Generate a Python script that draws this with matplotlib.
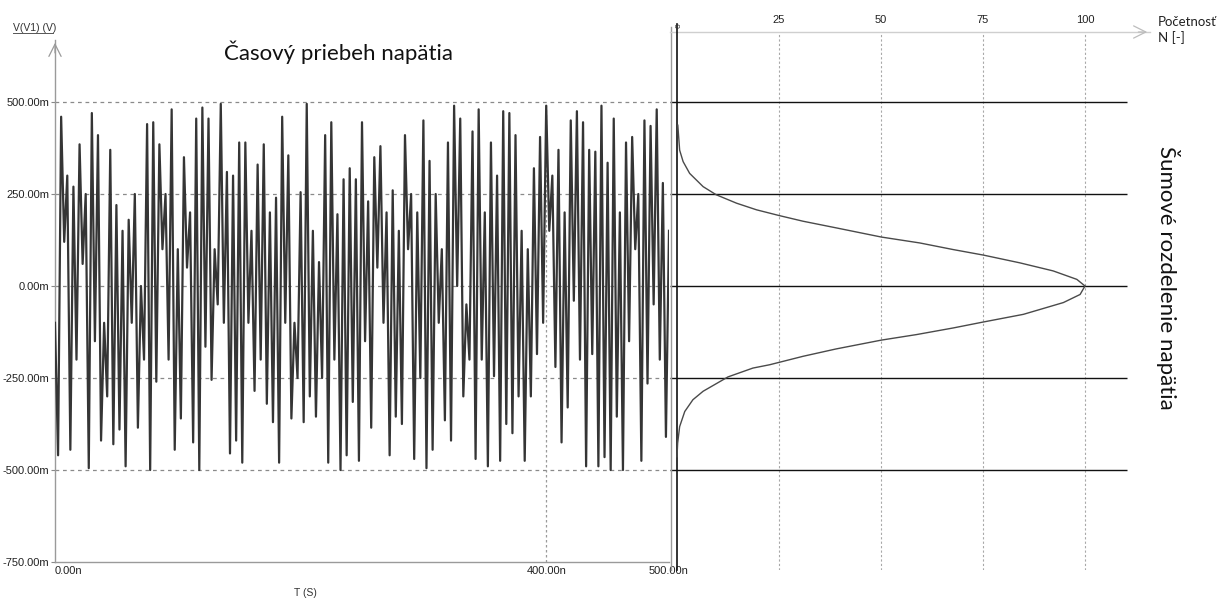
import numpy as np
import matplotlib
matplotlib.use("Agg")
import matplotlib.pyplot as plt
from matplotlib.lines import Line2D

# ---------------- data ----------------
# noise voltage (mV), successive turning points, evenly spread over 0..500 ns
noise_mv_part1 = [-100, -460, 460, 120, 300, -445, 270, -200, 385, 60,
                  250, -495, 470, -150, 410, -420, -100, -300, 370, -430,
                  220, -390, 150, -490, 180, -100, 250, -385, 0, -200,
                  440, -500, 445, -260, 385, 100, 250, -200, 480, -445,
                  100, -360, 350, 50, 200, -425, 455, -500, 485, -165,
                  455, -255, 100, -50, 495, -100, 310, -455, 300, -420,
                  390, -480, 390, -100, 150, -285, 330, -200, 385, -320,
                  200, -370, 240, -480, 460, -100, 355, -360, -100, -250,
                  255, -370, 495, -300, 150, -355, 65, -250, 410, -480,
                  445, -200, 195, -500, 290, -460, 320, -315, 290, -475,
                  445, -150, 230, -385, 350, 50, 380, -100, 200, -460]
noise_mv_part2 = [260, -355, 150, -375, 410, 100, 250, -470, 200, -250,
                  450, -495, 340, -445, 250, -100, 100, -365, 390, -420,
                  490, 0, 455, -300, -50, -200, 420, -470, 480, -200,
                  200, -490, 390, -245, 300, -475, 475, -375, 470, -400,
                  410, -300, 150, -475, 100, -300, 320, -185, 405, -100,
                  490, 150, 300, -220, 370, -425, 200, -330, 450, -40,
                  475, -200, 445, -490, 370, -185, 365, -490, 490, -465,
                  335, -500, 455, -355, 200, -500, 390, -150, 405, 100,
                  250, -475, 450, -265, 435, -50, 480, -200, 280, -410,
                  150]
t_end_ns = 500.0

# distribution curve: voltage (mV) and count N
dist_v_mv = [437, 369, 338, 306, 270, 248, 225, 207, 191, 176, 158, 133, 117, 99, 84, 63,
             41, 18, 0, -23, -45, -77, -98, -114, -132, -147, -171, -191, -214, -223,
             -247, -286, -309, -341, -382, -427, -464]
dist_n = [0.2, 0.65, 1.5, 3.1, 6.4, 9.6, 14.6, 19.5, 25.2, 30.9, 39.0, 50.1, 59.5, 67.7, 75.1, 84.0,
          92.2, 98.0, 100.0, 98.8, 94.7, 84.9, 75.0, 67.7, 58.7, 50.1, 39.0, 30.9, 22.7, 18.6,
          12.5, 6.4, 3.9, 1.9, 0.65, 0.16, 0.0]

v_ticks_mv = [500, 250, 0, -250, -500, -750]
v_tick_labels = ["500.00m", "250.00m", "0.00m", "-250.00m", "-500.00m", "-750.00m"]
t_ticks_ns = [0, 400, 500]
t_tick_labels = ["0.00n", "400.00n", "500.00n"]
n_ticks = [25, 50, 75, 100]

title_left = "Časový priebeh napätia"
title_right = "Šumové rozdelenie napätia"
ylabel = "V(V1) (V)"
xlabel = "T (S)"
nlabel = "Početnosť\nN [-]"

# ---------------- figure ----------------
W, H = 1220, 601
fig = plt.figure(figsize=(W / 100, H / 100), dpi=100)
fig.patch.set_facecolor("white")


def rect(x0, y0, x1, y1):
    return [x0 / W, 1 - y1 / H, (x1 - x0) / W, (y1 - y0) / H]


tick_font = "Liberation Sans"
title_font = "Lato"

# ---- left: time signal ----
ax1 = fig.add_axes(rect(55, 40, 669, 562))
noise = np.array(noise_mv_part1 + noise_mv_part2, dtype=float)
t = np.linspace(0, t_end_ns, len(noise))
ax1.plot(t, noise, color="#353535", lw=1.6, zorder=3)
ax1.set_xlim(0, t_end_ns)
ax1.set_ylim(-750, 668.5)

for v in v_ticks_mv[:-1]:
    ax1.axhline(v, color="#8a8a8a", lw=0.9, ls=(0, (3, 3)), zorder=1)
ax1.axvline(400, ymax=(500 + 750) / (668.5 + 750), color="#9a9a9a", lw=0.9,
            ls=(0, (2, 2)), zorder=1)

ax1.set_yticks(v_ticks_mv)
ax1.set_yticklabels(v_tick_labels)
ax1.set_xticks(t_ticks_ns)
ax1.set_xticklabels(t_tick_labels)
ax1.tick_params(axis="y", length=3, width=0.8, color="#888", labelsize=8,
                labelcolor="#222", pad=1)
ax1.tick_params(axis="x", length=0, labelsize=8, labelcolor="#222", pad=3)
for lab in ax1.get_xticklabels() + ax1.get_yticklabels():
    lab.set_fontfamily(tick_font)
ax1.get_xticklabels()[0].set_horizontalalignment("left")
ax1.spines["top"].set_visible(False)
ax1.spines["right"].set_visible(False)
for s in ["left", "bottom"]:
    ax1.spines[s].set_color("#9a9a9a")
    ax1.spines[s].set_linewidth(1.0)
ax1.annotate("", xy=(0, 1.0), xytext=(0, 0.97), xycoords="axes fraction",
             arrowprops=dict(arrowstyle="->", color="#9a9a9a", lw=0.9,
                             mutation_scale=22))

fig.text(13 / W, 1 - 31 / H, ylabel, fontsize=7.5, family=tick_font,
         color="#333", ha="left", va="baseline")
fig.add_artist(Line2D([13 / W, 53 / W], [1 - 33 / H, 1 - 33 / H], color="#555", lw=0.7))
fig.text(305 / W, 1 - 593 / H, xlabel, fontsize=7.5, family=tick_font,
         color="#333", ha="center", va="center")
fig.text(338 / W, 1 - 52 / H, title_left, fontsize=16, family=title_font,
         color="#111", ha="center", va="center")

# ---- right: distribution ----
ax2 = fig.add_axes(rect(670, 32, 1150, 570))
nmin, nmax = (670 - 677) / 4.08, (1150 - 677) / 4.08
ax2.set_xlim(nmin, nmax)
ax2.set_ylim(-771.7, 690.2)
ax2.patch.set_alpha(0)
for n in n_ticks:
    ax2.axvline(n, color="#a8a8a8", lw=0.8, ls=(0, (2, 2)), zorder=1)
ax2.hlines(v_ticks_mv[:-1], nmin, 110.3, color="#111", lw=1.0, zorder=2)
ax2.axvline(-1.5, ymax=1.01, color="#9a9a9a", lw=1.0, clip_on=False, zorder=2)
ax2.axvline(0, ymin=0.0, ymax=1.015, color="#111", lw=1.2, clip_on=False, zorder=3)
ax2.plot(dist_n, dist_v_mv, color="#4a4a4a", lw=1.0, zorder=4)

ax2.xaxis.tick_top()
ax2.set_xticks(n_ticks)
ax2.set_xticklabels([str(n) for n in n_ticks])
ax2.tick_params(axis="x", length=0, labelsize=8, labelcolor="#222", pad=5)
for lab in ax2.get_xticklabels():
    lab.set_fontfamily(tick_font)
ax2.set_yticks([])
for s in ["left", "right", "bottom"]:
    ax2.spines[s].set_visible(False)
ax2.spines["top"].set_color("#cfcfcf")
ax2.spines["top"].set_linewidth(1.0)
ax2.annotate("", xy=(1.0, 1.0), xytext=(0.97, 1.0), xycoords="axes fraction",
             arrowprops=dict(arrowstyle="->", color="#bdbdbd", lw=0.9,
                             mutation_scale=22))
fig.text(679 / W, 1 - 26 / H, "0", fontsize=6, family=tick_font, color="#333",
         rotation=90, ha="center", va="center")

fig.text(1158 / W, 1 - 30 / H, nlabel, fontsize=9.5, family=title_font,
         color="#222", ha="left", va="center", linespacing=1.3)
fig.text(1168 / W, 1 - 278 / H, title_right, fontsize=16, family=title_font,
         color="#111", rotation=-90, ha="center", va="center")

fig.savefig("out.png", dpi=100, facecolor="white")
